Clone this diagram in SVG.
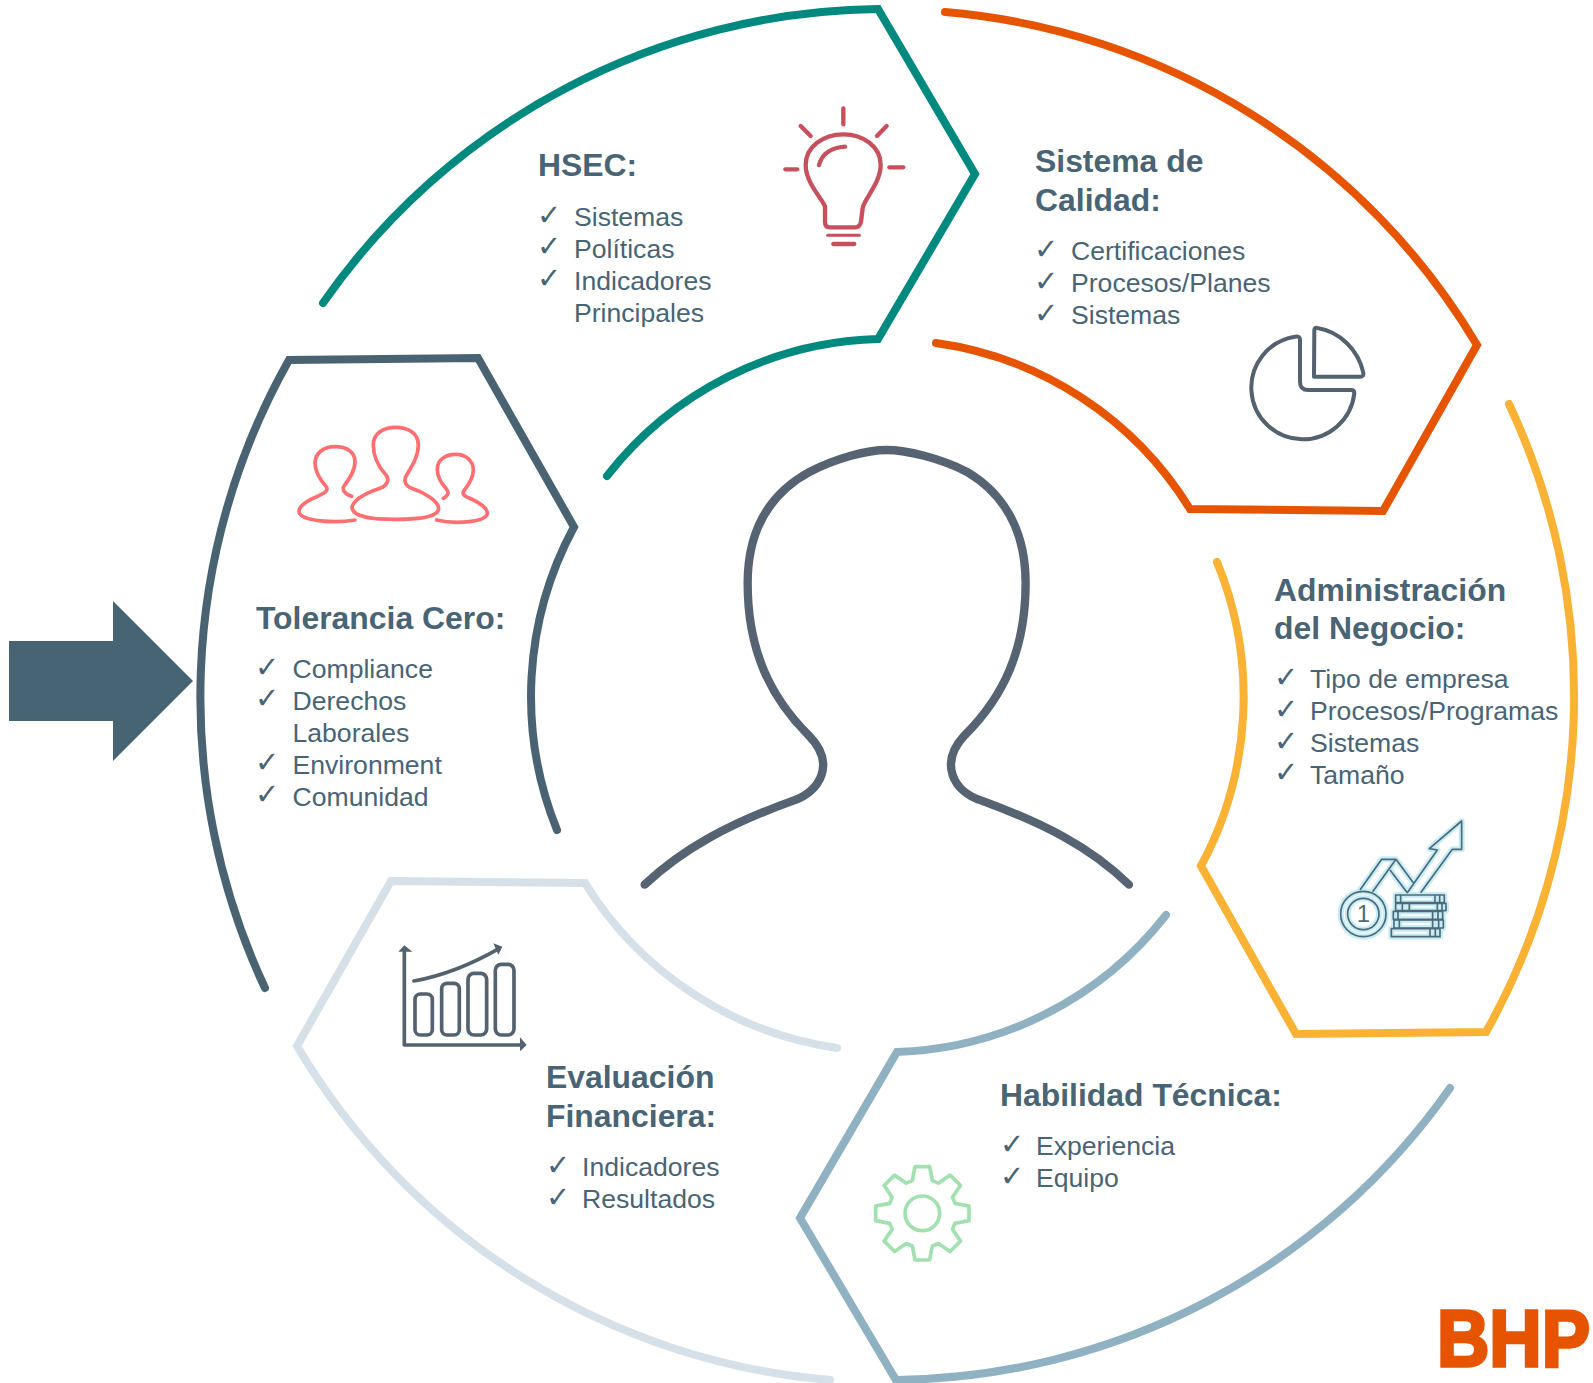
<svg xmlns="http://www.w3.org/2000/svg" width="1593" height="1383" viewBox="0 0 1593 1383">
<style>
text{font-family:"Liberation Sans",Arial,sans-serif;fill:#486475}
.t{font-size:31.9px;font-weight:700}
.i{font-size:26.6px}
.c{font-family:"DejaVu Sans",sans-serif;font-size:29px}
.seg{fill:none;stroke-width:8;stroke-linecap:round;stroke-linejoin:miter}
.ic{fill:none;stroke-linecap:round;stroke-linejoin:round}
</style>
<defs>
<g id="coins" fill="none" stroke-linejoin="round">
<path d="M210 300L275 208L318 208L370 278M248 305L318 208M300 240L352 308L442 180L418 176L515 93L515 178L487 178L392 308"/>
<circle cx="220" cy="372" r="68"/><circle cx="220" cy="372" r="47"/>
<rect x="317" y="315" width="146" height="23"/><rect x="317" y="340" width="151" height="22"/><rect x="310" y="364" width="148" height="24"/><rect x="312" y="390" width="148" height="24"/><rect x="304" y="416" width="146" height="24"/>
<path d="M332 315V338M435 315V338M449 315V338M337 340V362M358 340V362M442 340V362M456 340V362M324 364V388M428 364V388M444 364V388M328 390V414M428 390V414M446 390V414M420 416V440M436 416V440"/>
</g>
</defs>
<g id="connectors">
<path id="entry-arrow" fill="#476474" d="M9 641H113V601L193 681L113 761V721H9Z"/>
</g>
<g id="hsec">
<path class="seg" stroke="#00897f" d="M323 303A686 686 0 0 1 878 9L975 174L878 339A356 356 0 0 0 607 476"/>
<g class="ic" transform="translate(760 90) scale(.3333)" stroke="#c6505b" stroke-width="13">
<path d="M195 350C190 330 137 280 137 225C137 170 190 133 250 133C310 133 362 170 362 225C362 280 310 330 308 355L303 395Q300 412 285 412L210 412Q195 412 195 395Z"/>
<path d="M250 55V103M122 108L152 138M380 108L351 138M76 238H112M388 232H430M220 462H283M177 225Q190 175 255 170"/>
<path stroke-width="9" d="M203 436H298"/>
</g>
<text class="t" x="538" y="176">HSEC:</text>
<text class="c" x="537" y="225">✓</text><text class="c" x="537" y="256">✓</text><text class="c" x="537" y="288">✓</text>
<text class="i" x="574" y="226">Sistemas</text><text class="i" x="574" y="258">Políticas</text><text class="i" x="574" y="290">Indicadores</text><text class="i" x="574" y="322">Principales</text>
</g>
<g id="calidad">
<path class="seg" stroke="#e65400" d="M945 12A686 686 0 0 1 1477 345L1383 511L1190 509A356 356 0 0 0 936 343"/>
<g class="ic" transform="translate(1230 310) scale(.3333)" stroke="#54626f" stroke-width="12">
<path d="M253 60Q253 52 262 54C330 65 385 120 400 188Q402 200 390 200L252 200Z"/>
<path d="M210 88Q210 78 195 80A155 155 0 1 0 373 250Q373 240 363 240L235 240Q210 240 210 215Z"/>
</g>
<text class="t" x="1035" y="172">Sistema de</text><text class="t" x="1035" y="211">Calidad:</text>
<text class="c" x="1034" y="259">✓</text><text class="c" x="1034" y="291">✓</text><text class="c" x="1034" y="323">✓</text>
<text class="i" x="1071" y="260">Certificaciones</text><text class="i" x="1071" y="292">Procesos/Planes</text><text class="i" x="1071" y="324">Sistemas</text>
</g>
<g id="administracion">
<path class="seg" stroke="#f9b233" d="M1509 404A686 686 0 0 1 1486 1032L1296 1034L1201 866A356 356 0 0 0 1217 562"/>
<g transform="translate(1290 790) scale(.3333)">
<use href="#coins" stroke="#c6ecf6" stroke-width="18"/>
<use href="#coins" stroke="#4e6a78" stroke-width="5"/>
<text x="220" y="397" text-anchor="middle" font-size="72" style="fill:#4e6a78">1</text>
</g>
<text class="t" x="1274" y="601">Administración</text><text class="t" x="1274" y="639">del Negocio:</text>
<text class="c" x="1274" y="687">✓</text><text class="c" x="1274" y="719">✓</text><text class="c" x="1274" y="751">✓</text><text class="c" x="1274" y="782">✓</text>
<text class="i" x="1310" y="688">Tipo de empresa</text><text class="i" x="1310" y="720">Procesos/Programas</text><text class="i" x="1310" y="752">Sistemas</text><text class="i" x="1310" y="784">Tamaño</text>
</g>
<g id="habilidad">
<path class="seg" stroke="#8fb1c2" d="M1450 1088A686 686 0 0 1 896 1380L800 1218L897 1052A356 356 0 0 0 1166 915"/>
<g class="ic" transform="translate(860 1150) scale(.3333)" stroke="#a2e0b0" stroke-width="11">
<g transform="translate(187 190)">
<polygon points="-30,-98 -22,-140 22,-140 30,-98 48.1,-90.5 83.4,-114.6 114.6,-83.4 90.5,-48.1 98,-30 140,-22 140,22 98,30 90.5,48.1 114.6,83.4 83.4,114.6 48.1,90.5 30,98 22,140 -22,140 -30,98 -48.1,90.5 -83.4,114.6 -114.6,83.4 -90.5,48.1 -98,30 -140,22 -140,-22 -98,-30 -90.5,-48.1 -114.6,-83.4 -83.4,-114.6 -48.1,-90.5"/>
<circle r="52"/>
</g>
</g>
<text class="t" x="1000" y="1106">Habilidad Técnica:</text>
<text class="c" x="1000" y="1154">✓</text><text class="c" x="1000" y="1186">✓</text>
<text class="i" x="1036" y="1155">Experiencia</text><text class="i" x="1036" y="1187">Equipo</text>
</g>
<g id="evaluacion">
<path class="seg" stroke="#d6e0e8" d="M830 1380A686 686 0 0 1 297 1046L391 881L585 883A356 356 0 0 0 837 1048"/>
<g class="ic" transform="translate(380 930) scale(.3333)" stroke="#54626f" stroke-width="11">
<path d="M73 60V345H425M102 153C200 135 280 100 358 55"/>
<rect x="105" y="192" width="52" height="123" rx="16"/><rect x="185" y="160" width="53" height="155" rx="16"/><rect x="264" y="130" width="56" height="185" rx="18"/><rect x="346" y="103" width="56" height="212" rx="18"/>
<path fill="#54626f" stroke="none" d="M55 65L73 46L97 65ZM420 322L440 345L420 364ZM340 40L367 50L355 74Z"/>
</g>
<text class="t" x="546" y="1088">Evaluación</text><text class="t" x="546" y="1127">Financiera:</text>
<text class="c" x="546" y="1175">✓</text><text class="c" x="546" y="1207">✓</text>
<text class="i" x="582" y="1176">Indicadores</text><text class="i" x="582" y="1208">Resultados</text>
</g>
<g id="tolerancia">
<path class="seg" stroke="#4a6372" d="M265 988A686 686 0 0 1 289 360L478 358L574 527A356 356 0 0 0 557 830"/>
<g class="ic" transform="translate(280 410) scale(.3333)" stroke="#ff6f71" stroke-width="11">
<path d="M216 290C225 265 270 245 300 235C320 228 330 210 318 195C295 170 280 140 280 105C280 70 310 52 347 52C385 52 415 70 415 105C415 140 395 170 380 195C370 210 375 228 395 235C425 245 475 270 476 295C476 325 400 328 345 328C290 328 216 325 216 290Z"/>
<path d="M215 259C195 252 185 240 192 228C205 210 225 185 225 155C225 125 200 110 165 110C130 110 105 130 105 160C105 190 125 215 140 232C145 245 130 250 115 258C85 270 57 285 57 305C60 335 170 340 225 330"/>
<path d="M490 265C500 260 510 250 500 238C485 222 472 205 472 178C472 150 495 133 528 133C560 133 580 155 580 180C580 210 560 230 550 245C545 258 565 262 580 270C600 280 622 295 622 310C620 335 530 345 470 330"/>
</g>
<text class="t" x="256" y="629">Tolerancia Cero:</text>
<text class="c" x="255" y="677">✓</text><text class="c" x="255" y="708">✓</text><text class="c" x="255" y="772">✓</text><text class="c" x="255" y="804">✓</text>
<text class="i" x="292.5" y="678">Compliance</text><text class="i" x="292.5" y="710">Derechos</text><text class="i" x="292.5" y="742">Laborales</text><text class="i" x="292.5" y="774">Environment</text><text class="i" x="292.5" y="806">Comunidad</text>
</g>
<g id="persona">
<path fill="none" transform="translate(630 430) scale(.3333)" stroke="#556372" stroke-width="25" stroke-linecap="round" d="M44 1364C160 1255 300 1180 490 1112C570 1085 620 1000 535 915C420 800 353 660 353 460C353 300 420 190 540 125C620 85 710 60 770 60C830 60 930 85 1010 125C1120 190 1187 300 1187 460C1187 660 1120 800 1005 915C925 1000 970 1085 1055 1112C1240 1180 1380 1250 1497 1364"/>
</g>
<g id="logo">
<text transform="translate(1437 1366) scale(1 1.103)" font-size="72.5" font-weight="700" style="fill:#e65400;stroke:#e65400;stroke-width:3">BHP</text>
</g>
</svg>
